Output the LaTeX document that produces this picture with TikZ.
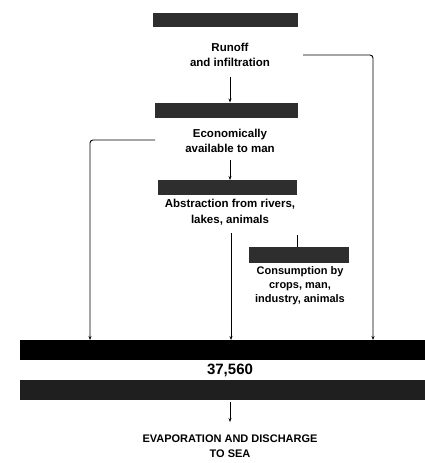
\documentclass[tikz,border=0pt]{standalone}
\usepackage{fontspec}
\setmainfont{Liberation Sans}
\usetikzlibrary{arrows.meta}
\begin{document}
\begin{tikzpicture}[x=1pt,y=-1pt,
  bar/.style={fill=black!82,draw=none,inner sep=0pt,outer sep=0pt},
  blackbar/.style={fill=black,draw=none,inner sep=0pt,outer sep=0pt},
  lbl/.style={align=center,inner sep=0pt,font=\fontsize{11.5}{15.5}\selectfont\bfseries},
  conn/.style={line width=0.9pt,-{Stealth[length=4pt,width=3pt]}},
  plain/.style={line width=0.9pt},
  rc/.style={rounded corners=3pt}]
\useasboundingbox (0,0) rectangle (425,463);
% bars
\node[bar,minimum width=145,minimum height=14] (b1) at (225.5,20) {};
\node[bar,minimum width=143,minimum height=15] (b2) at (226.5,110) {};
\node[bar,minimum width=139,minimum height=15] (b3) at (227.5,187.5) {};
\node[bar,minimum width=100,minimum height=16] (b4) at (299,255) {};
\node[blackbar,minimum width=405,minimum height=20] (b5) at (222.5,350) {};
\node[bar,fill=black!88,minimum width=405,minimum height=20] (b6) at (222.5,390) {};
% texts
\node[lbl] (t1) at (230,55) {Runoff\\and infiltration};
\node[lbl] (t2) at (230,141) {Economically\\available to man};
\node[lbl] (t3) at (230,212) {Abstraction from rivers,\\lakes, animals};
\node[lbl,font=\fontsize{11}{14}\selectfont\bfseries] (t4) at (300,286) {Consumption by\\crops, man,\\industry, animals};
\node[lbl,font=\fontsize{15}{17}\selectfont\bfseries] (t5) at (230,370) {37,560};
\node[lbl,font=\fontsize{11}{15.5}\selectfont\bfseries] (t6) at (230,446) {EVAPORATION AND DISCHARGE\\TO SEA};
% connector end points
\coordinate (a1) at (230,77);
\coordinate (r0) at (303,55);
\coordinate (r1) at (373,55);
\coordinate (l0) at (155,140);
\coordinate (l1) at (90,140);
\coordinate (a2) at (230,160);
\coordinate (m0) at (231,233);
\coordinate (f0) at (297,235);
\coordinate (g0) at (230,402);
\coordinate (g1) at (230,422);
% connectors
\draw[conn] (a1) -- (a1 |- b2.north);
\draw[conn,rc] (r0) -- (r1) -- (r1 |- b5.north);
\draw[conn,rc] (l0) -- (l1) -- (l1 |- b5.north);
\draw[conn] (a2) -- (a2 |- b3.north);
\draw[conn] (m0) -- (m0 |- b5.north);
\draw[plain] (f0) -- (f0 |- b4.north);
\draw[conn] (g0) -- (g1);
\end{tikzpicture}
\end{document}
